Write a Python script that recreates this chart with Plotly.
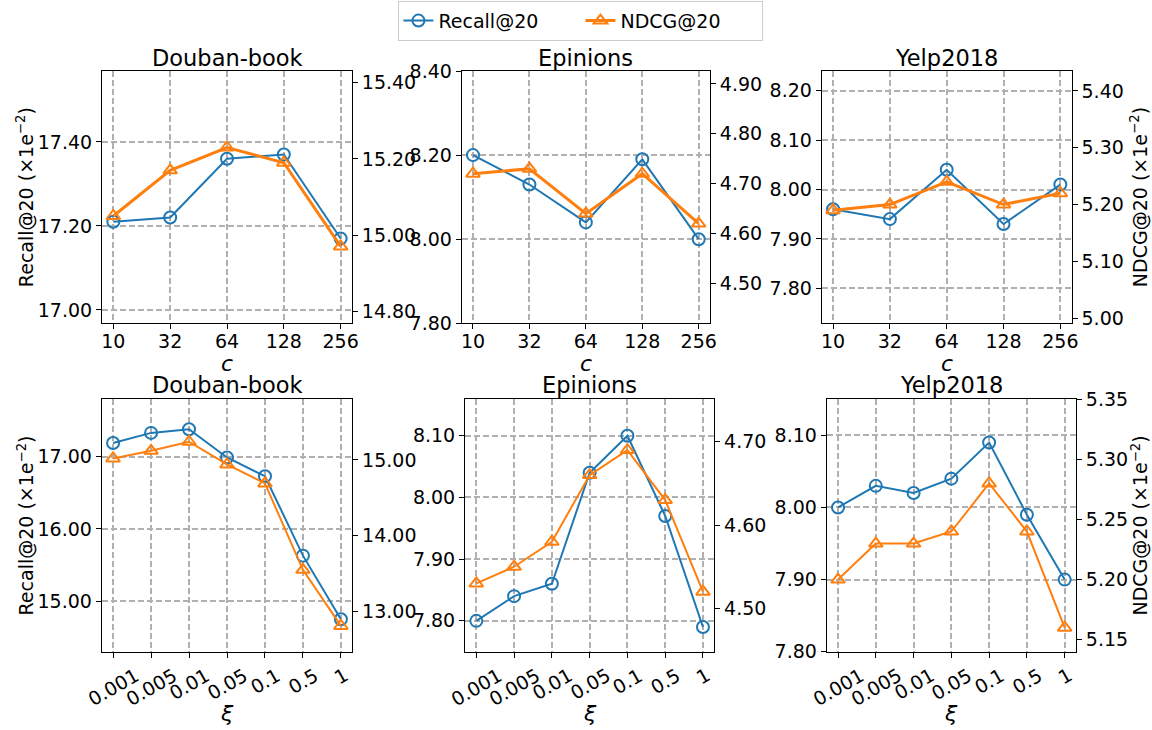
import plotly.graph_objects as go

# ---------------- data ----------------
c_labels = ["10", "32", "64", "128", "256"]
xi_labels = ["0.001", "0.005", "0.01", "0.05", "0.1", "0.5", "1"]

douban_c_recall = [17.21, 17.22, 17.36, 17.37, 17.17]
douban_c_ndcg = [15.05, 15.17, 15.23, 15.19, 14.97]
epinions_c_recall = [8.20, 8.13, 8.04, 8.19, 8.00]
epinions_c_ndcg = [4.72, 4.73, 4.64, 4.72, 4.62]
yelp_c_recall = [7.96, 7.94, 8.04, 7.93, 8.01]
yelp_c_ndcg = [5.19, 5.20, 5.24, 5.20, 5.22]

douban_xi_recall = [17.19, 17.33, 17.38, 16.99, 16.73, 15.63, 14.75]
douban_xi_ndcg = [15.02, 15.12, 15.24, 14.94, 14.69, 13.55, 12.81]
epinions_xi_recall = [7.80, 7.84, 7.86, 8.04, 8.10, 7.97, 7.79]
epinions_xi_ndcg = [4.53, 4.55, 4.58, 4.66, 4.69, 4.63, 4.52]
yelp_xi_recall = [8.00, 8.03, 8.02, 8.04, 8.09, 7.99, 7.90]
yelp_xi_ndcg = [5.20, 5.23, 5.23, 5.24, 5.28, 5.24, 5.16]

titles = ["Douban-book", "Epinions", "Yelp2018", "Douban-book", "Epinions", "Yelp2018"]
series_names = ["Recall@20", "NDCG@20"]

# ---------------- layout geometry (pixels) ----------------
W, H = 1152, 730
FONT = "DejaVu Sans"
BLUE = "#1f77b4"
ORANGE = "#ff7f0e"

panels = [
    dict(labels=c_labels, rec=douban_c_recall, ndcg=douban_c_ndcg,
         px=(102, 352), py=(71, 323.3),
         lr=[16.968, 17.569], lt=[17.0, 17.2, 17.4],
         rr=[14.768, 15.431], rt=[14.8, 15.0, 15.2, 15.4], ow=3),
    dict(labels=c_labels, rec=epinions_c_recall, ndcg=epinions_c_ndcg,
         px=(461.7, 710), py=(71, 323.3),
         lr=[7.80, 8.40], lt=[7.8, 8.0, 8.2, 8.4],
         rr=[4.42, 4.926], rt=[4.5, 4.6, 4.7, 4.8, 4.9], ow=3),
    dict(labels=c_labels, rec=yelp_c_recall, ndcg=yelp_c_ndcg,
         px=(821.7, 1071.7), py=(71, 323.3),
         lr=[7.729, 8.24], lt=[7.8, 7.9, 8.0, 8.1, 8.2],
         rr=[4.991, 5.435], rt=[5.0, 5.1, 5.2, 5.3, 5.4], ow=3),
    dict(labels=xi_labels, rec=douban_xi_recall, ndcg=douban_xi_ndcg,
         px=(101.7, 352.3), py=(399.3, 651.7),
         lr=[14.30, 17.795], lt=[15.0, 16.0, 17.0],
         rr=[12.47, 15.80], rt=[13.0, 14.0, 15.0], ow=2),
    dict(labels=xi_labels, rec=epinions_xi_recall, ndcg=epinions_xi_ndcg,
         px=(465, 714.3), py=(399.3, 651.7),
         lr=[7.75, 8.159], lt=[7.8, 7.9, 8.0, 8.1],
         rr=[4.448, 4.751], rt=[4.5, 4.6, 4.7], ow=2),
    dict(labels=xi_labels, rec=yelp_xi_recall, ndcg=yelp_xi_ndcg,
         px=(826.7, 1076), py=(399.3, 651.7),
         lr=[7.80, 8.15], lt=[7.8, 7.9, 8.0, 8.1],
         rr=[5.14, 5.35], rt=[5.15, 5.2, 5.25, 5.3, 5.35], ow=2),
]

fig = go.Figure()
layout = dict(
    width=W, height=H,
    margin=dict(l=0, r=0, t=0, b=0),
    paper_bgcolor="white", plot_bgcolor="white",
    font=dict(family=FONT, size=19, color="black"),
    template="none",
    showlegend=True,
    legend=dict(orientation="h", x=0.5043, xanchor="center", y=0.999, yanchor="top",
                bordercolor="#cccccc", borderwidth=1, bgcolor="white",
                font=dict(size=19, family=FONT), entrywidth=137,
                tracegroupgap=0),
)

annotations = []
grid_kw = dict(showgrid=True, gridcolor="#b0b0b0", griddash="6px,3px", gridwidth=1.5)

for i, p in enumerate(panels):
    k = i + 1
    n = len(p["labels"])
    xd = [p["px"][0] / W, p["px"][1] / W]
    yd = [(H - p["py"][1]) / H, (H - p["py"][0]) / H]
    xname = "xaxis" if k == 1 else f"xaxis{k}"
    yname = "yaxis" if k == 1 else f"yaxis{k}"
    y2k = k + 6
    y2name = f"yaxis{y2k}"
    xref = "x" if k == 1 else f"x{k}"
    yref = "y" if k == 1 else f"y{k}"
    y2ref = f"y{y2k}"

    bottom = i >= 3
    layout[xname] = dict(
        domain=xd, anchor=yref, range=[-(0.05 * (n - 1)), (n - 1) * 1.05],
        tickmode="array", tickvals=list(range(n)), ticktext=p["labels"],
        showticklabels=not bottom, ticklabelstandoff=-4,
        showline=True, linecolor="black", linewidth=1, mirror=True,
        ticks="outside", ticklen=5, tickcolor="black", tickwidth=1,
        automargin=False, zeroline=False,
        tickfont=dict(size=19), **grid_kw,
    )
    layout[yname] = dict(
        domain=yd, anchor=xref, range=p["lr"], side="left",
        tickmode="array", tickvals=p["lt"], tickformat=".2f",
        showline=True, linecolor="black", linewidth=1,
        ticks="outside", ticklen=5, tickcolor="black", tickwidth=1,
        automargin=False, zeroline=False, tickfont=dict(size=19), **grid_kw,
    )
    layout[y2name] = dict(
        overlaying=yref, anchor=xref, side="right", range=p["rr"],
        tickmode="array", tickvals=p["rt"], tickformat=".2f",
        showline=True, linecolor="black", linewidth=1,
        ticks="outside", ticklen=5, tickcolor="black", tickwidth=1,
        showgrid=False, automargin=False, zeroline=False, tickfont=dict(size=19),
    )

    fig.add_trace(go.Scatter(
        x=list(range(n)), y=p["rec"], xaxis=xref, yaxis=yref,
        mode="lines+markers", name=series_names[0], legendgroup="r", showlegend=(k == 1),
        line=dict(color=BLUE, width=2),
        marker=dict(symbol="circle-open", size=12, color=BLUE, line=dict(width=2, color=BLUE)),
    ))
    fig.add_trace(go.Scatter(
        x=list(range(n)), y=p["ndcg"], xaxis=xref, yaxis=y2ref,
        mode="lines+markers", name=series_names[1], legendgroup="n", showlegend=(k == 1),
        line=dict(color=ORANGE, width=p["ow"]),
        marker=dict(symbol="triangle-up-open", size=12, color=ORANGE, line=dict(width=2, color=ORANGE)),
    ))

    # rotated, centre-aligned tick labels for the bottom row
    if bottom:
        for j, lab in enumerate(p["labels"]):
            annotations.append(dict(text=lab, x=j, xref=xref, y=(H - 661) / H, yref="paper",
                                    xanchor="center", yanchor="top", textangle=-30,
                                    showarrow=False, font=dict(size=19, family=FONT)))

    cx = (p["px"][0] + p["px"][1]) / 2 / W
    # subplot title
    ty = 58 if not bottom else 385
    annotations.append(dict(text=titles[i], x=cx, y=(H - ty) / H, xref="paper", yref="paper",
                            xanchor="center", yanchor="middle", showarrow=False,
                            font=dict(size=22.5, family=FONT)))
    # x title
    xt = 363 if not bottom else 713
    annotations.append(dict(text="<i>c</i>" if not bottom else "<i>ξ</i>", x=cx, y=(H - xt) / H,
                            xref="paper", yref="paper", xanchor="center", yanchor="middle",
                            showarrow=False, font=dict(size=22, family=FONT)))
    cy = (H - (p["py"][0] + p["py"][1]) / 2) / H
    if i % 3 == 0:
        annotations.append(dict(text="Recall@20 (×1e<sup>−2</sup>)", x=25 / W, y=cy,
                                xref="paper", yref="paper", xanchor="center", yanchor="middle",
                                textangle=-90, showarrow=False, font=dict(size=19, family=FONT)))
    if i % 3 == 2:
        annotations.append(dict(text="NDCG@20 (×1e<sup>−2</sup>)", x=1139 / W, y=cy,
                                xref="paper", yref="paper", xanchor="center", yanchor="middle",
                                textangle=-90, showarrow=False, font=dict(size=19, family=FONT)))

layout["annotations"] = annotations
fig.update_layout(**layout)
fig.write_html("out.html", config={"displayModeBar": False},
               post_script="document.body.style.margin='0px';")
